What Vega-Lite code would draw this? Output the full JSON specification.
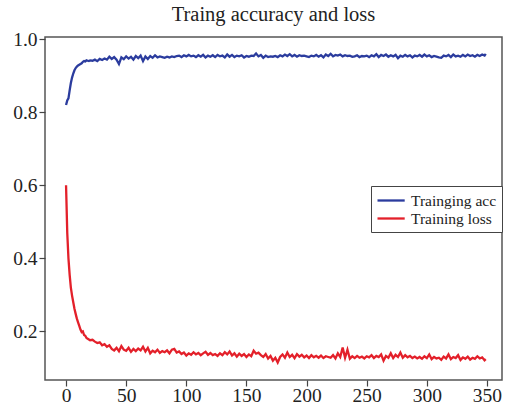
{
  "$schema": "https://vega.github.io/schema/vega-lite/v6.json",
  "width": 457,
  "height": 343,
  "autosize": {"type": "none"},
  "padding": {"left": 45, "top": 37, "right": 5, "bottom": 25},
  "background": "white",
  "title": {"text": "Traing accuracy and loss", "font": "Liberation Serif", "fontSize": 20.5, "fontWeight": "normal", "color": "#222", "offset": 4, "anchor": "middle"},
  "config": {
    "view": {"stroke": "#555", "strokeWidth": 1.5},
    "axis": {"grid": false, "domain": false, "labelFont": "Liberation Serif", "labelFontSize": 19.5, "labelColor": "#222", "tickColor": "#444", "tickSize": 6, "tickWidth": 1.2, "title": null}
  },
  "data": {"values": [
{"epoch":0,"Trainging acc":0.820,"Training loss":0.600},
{"epoch":1,"Trainging acc":0.832,"Training loss":0.470},
{"epoch":2,"Trainging acc":0.838,"Training loss":0.400},
{"epoch":3,"Trainging acc":0.860,"Training loss":0.355},
{"epoch":4,"Trainging acc":0.880,"Training loss":0.320},
{"epoch":5,"Trainging acc":0.895,"Training loss":0.298},
{"epoch":6,"Trainging acc":0.906,"Training loss":0.280},
{"epoch":7,"Trainging acc":0.915,"Training loss":0.262},
{"epoch":8,"Trainging acc":0.921,"Training loss":0.248},
{"epoch":9,"Trainging acc":0.925,"Training loss":0.235},
{"epoch":10,"Trainging acc":0.928,"Training loss":0.225},
{"epoch":11,"Trainging acc":0.930,"Training loss":0.215},
{"epoch":12,"Trainging acc":0.932,"Training loss":0.205},
{"epoch":13,"Trainging acc":0.934,"Training loss":0.198},
{"epoch":14,"Trainging acc":0.938,"Training loss":0.200},
{"epoch":15,"Trainging acc":0.940,"Training loss":0.190},
{"epoch":16,"Trainging acc":0.939,"Training loss":0.188},
{"epoch":17,"Trainging acc":0.942,"Training loss":0.182},
{"epoch":18,"Trainging acc":0.941,"Training loss":0.180},
{"epoch":19,"Trainging acc":0.940,"Training loss":0.178},
{"epoch":20,"Trainging acc":0.942,"Training loss":0.176},
{"epoch":22,"Trainging acc":0.941,"Training loss":0.177},
{"epoch":24,"Trainging acc":0.944,"Training loss":0.172},
{"epoch":26,"Trainging acc":0.940,"Training loss":0.168},
{"epoch":28,"Trainging acc":0.946,"Training loss":0.170},
{"epoch":30,"Trainging acc":0.943,"Training loss":0.162},
{"epoch":32,"Trainging acc":0.947,"Training loss":0.165},
{"epoch":34,"Trainging acc":0.944,"Training loss":0.158},
{"epoch":36,"Trainging acc":0.952,"Training loss":0.162},
{"epoch":38,"Trainging acc":0.946,"Training loss":0.152},
{"epoch":40,"Trainging acc":0.951,"Training loss":0.148},
{"epoch":42,"Trainging acc":0.944,"Training loss":0.155},
{"epoch":44,"Trainging acc":0.932,"Training loss":0.146},
{"epoch":46,"Trainging acc":0.950,"Training loss":0.160},
{"epoch":48,"Trainging acc":0.945,"Training loss":0.150},
{"epoch":50,"Trainging acc":0.953,"Training loss":0.147},
{"epoch":52,"Trainging acc":0.947,"Training loss":0.155},
{"epoch":54,"Trainging acc":0.952,"Training loss":0.144},
{"epoch":56,"Trainging acc":0.944,"Training loss":0.152},
{"epoch":58,"Trainging acc":0.954,"Training loss":0.146},
{"epoch":60,"Trainging acc":0.948,"Training loss":0.153},
{"epoch":62,"Trainging acc":0.955,"Training loss":0.148},
{"epoch":64,"Trainging acc":0.940,"Training loss":0.158},
{"epoch":66,"Trainging acc":0.953,"Training loss":0.145},
{"epoch":68,"Trainging acc":0.946,"Training loss":0.155},
{"epoch":70,"Trainging acc":0.954,"Training loss":0.140},
{"epoch":72,"Trainging acc":0.949,"Training loss":0.147},
{"epoch":74,"Trainging acc":0.956,"Training loss":0.143},
{"epoch":76,"Trainging acc":0.950,"Training loss":0.150},
{"epoch":78,"Trainging acc":0.953,"Training loss":0.141},
{"epoch":80,"Trainging acc":0.951,"Training loss":0.146},
{"epoch":82,"Trainging acc":0.949,"Training loss":0.143},
{"epoch":84,"Trainging acc":0.952,"Training loss":0.148},
{"epoch":86,"Trainging acc":0.950,"Training loss":0.140},
{"epoch":88,"Trainging acc":0.953,"Training loss":0.150},
{"epoch":90,"Trainging acc":0.951,"Training loss":0.152},
{"epoch":92,"Trainging acc":0.954,"Training loss":0.142},
{"epoch":94,"Trainging acc":0.955,"Training loss":0.145},
{"epoch":96,"Trainging acc":0.951,"Training loss":0.138},
{"epoch":98,"Trainging acc":0.956,"Training loss":0.142},
{"epoch":100,"Trainging acc":0.953,"Training loss":0.134},
{"epoch":102,"Trainging acc":0.957,"Training loss":0.140},
{"epoch":104,"Trainging acc":0.953,"Training loss":0.136},
{"epoch":106,"Trainging acc":0.955,"Training loss":0.143},
{"epoch":108,"Trainging acc":0.951,"Training loss":0.137},
{"epoch":110,"Trainging acc":0.956,"Training loss":0.141},
{"epoch":112,"Trainging acc":0.952,"Training loss":0.135},
{"epoch":114,"Trainging acc":0.957,"Training loss":0.140},
{"epoch":116,"Trainging acc":0.950,"Training loss":0.144},
{"epoch":118,"Trainging acc":0.955,"Training loss":0.136},
{"epoch":120,"Trainging acc":0.952,"Training loss":0.141},
{"epoch":122,"Trainging acc":0.956,"Training loss":0.135},
{"epoch":124,"Trainging acc":0.951,"Training loss":0.138},
{"epoch":126,"Trainging acc":0.957,"Training loss":0.133},
{"epoch":128,"Trainging acc":0.953,"Training loss":0.140},
{"epoch":130,"Trainging acc":0.955,"Training loss":0.135},
{"epoch":132,"Trainging acc":0.950,"Training loss":0.143},
{"epoch":134,"Trainging acc":0.958,"Training loss":0.137},
{"epoch":136,"Trainging acc":0.952,"Training loss":0.145},
{"epoch":138,"Trainging acc":0.957,"Training loss":0.134},
{"epoch":140,"Trainging acc":0.951,"Training loss":0.140},
{"epoch":142,"Trainging acc":0.955,"Training loss":0.131},
{"epoch":144,"Trainging acc":0.953,"Training loss":0.139},
{"epoch":146,"Trainging acc":0.956,"Training loss":0.133},
{"epoch":148,"Trainging acc":0.950,"Training loss":0.138},
{"epoch":150,"Trainging acc":0.954,"Training loss":0.130},
{"epoch":152,"Trainging acc":0.952,"Training loss":0.137},
{"epoch":154,"Trainging acc":0.955,"Training loss":0.132},
{"epoch":156,"Trainging acc":0.954,"Training loss":0.147},
{"epoch":158,"Trainging acc":0.961,"Training loss":0.139},
{"epoch":160,"Trainging acc":0.953,"Training loss":0.142},
{"epoch":162,"Trainging acc":0.957,"Training loss":0.135},
{"epoch":164,"Trainging acc":0.949,"Training loss":0.130},
{"epoch":166,"Trainging acc":0.955,"Training loss":0.138},
{"epoch":168,"Trainging acc":0.951,"Training loss":0.126},
{"epoch":170,"Trainging acc":0.953,"Training loss":0.133},
{"epoch":172,"Trainging acc":0.952,"Training loss":0.120},
{"epoch":174,"Trainging acc":0.954,"Training loss":0.128},
{"epoch":176,"Trainging acc":0.951,"Training loss":0.115},
{"epoch":178,"Trainging acc":0.956,"Training loss":0.130},
{"epoch":180,"Trainging acc":0.953,"Training loss":0.137},
{"epoch":182,"Trainging acc":0.958,"Training loss":0.128},
{"epoch":184,"Trainging acc":0.954,"Training loss":0.142},
{"epoch":186,"Trainging acc":0.959,"Training loss":0.130},
{"epoch":188,"Trainging acc":0.953,"Training loss":0.136},
{"epoch":190,"Trainging acc":0.957,"Training loss":0.127},
{"epoch":192,"Trainging acc":0.952,"Training loss":0.138},
{"epoch":194,"Trainging acc":0.956,"Training loss":0.131},
{"epoch":196,"Trainging acc":0.954,"Training loss":0.136},
{"epoch":198,"Trainging acc":0.955,"Training loss":0.129},
{"epoch":200,"Trainging acc":0.953,"Training loss":0.134},
{"epoch":202,"Trainging acc":0.951,"Training loss":0.127},
{"epoch":204,"Trainging acc":0.955,"Training loss":0.135},
{"epoch":206,"Trainging acc":0.953,"Training loss":0.129},
{"epoch":208,"Trainging acc":0.957,"Training loss":0.133},
{"epoch":210,"Trainging acc":0.952,"Training loss":0.128},
{"epoch":212,"Trainging acc":0.956,"Training loss":0.134},
{"epoch":214,"Trainging acc":0.950,"Training loss":0.127},
{"epoch":216,"Trainging acc":0.958,"Training loss":0.132},
{"epoch":218,"Trainging acc":0.954,"Training loss":0.130},
{"epoch":220,"Trainging acc":0.960,"Training loss":0.128},
{"epoch":222,"Trainging acc":0.953,"Training loss":0.135},
{"epoch":224,"Trainging acc":0.957,"Training loss":0.126},
{"epoch":226,"Trainging acc":0.955,"Training loss":0.140},
{"epoch":228,"Trainging acc":0.958,"Training loss":0.130},
{"epoch":230,"Trainging acc":0.953,"Training loss":0.156},
{"epoch":232,"Trainging acc":0.956,"Training loss":0.128},
{"epoch":234,"Trainging acc":0.954,"Training loss":0.150},
{"epoch":236,"Trainging acc":0.955,"Training loss":0.125},
{"epoch":238,"Trainging acc":0.952,"Training loss":0.132},
{"epoch":240,"Trainging acc":0.953,"Training loss":0.127},
{"epoch":242,"Trainging acc":0.956,"Training loss":0.133},
{"epoch":244,"Trainging acc":0.951,"Training loss":0.128},
{"epoch":246,"Trainging acc":0.954,"Training loss":0.131},
{"epoch":248,"Trainging acc":0.953,"Training loss":0.126},
{"epoch":250,"Trainging acc":0.955,"Training loss":0.132},
{"epoch":252,"Trainging acc":0.951,"Training loss":0.129},
{"epoch":254,"Trainging acc":0.956,"Training loss":0.135},
{"epoch":256,"Trainging acc":0.953,"Training loss":0.127},
{"epoch":258,"Trainging acc":0.959,"Training loss":0.133},
{"epoch":260,"Trainging acc":0.951,"Training loss":0.130},
{"epoch":262,"Trainging acc":0.957,"Training loss":0.137},
{"epoch":264,"Trainging acc":0.954,"Training loss":0.120},
{"epoch":266,"Trainging acc":0.958,"Training loss":0.133},
{"epoch":268,"Trainging acc":0.952,"Training loss":0.128},
{"epoch":270,"Trainging acc":0.956,"Training loss":0.140},
{"epoch":272,"Trainging acc":0.953,"Training loss":0.127},
{"epoch":274,"Trainging acc":0.957,"Training loss":0.136},
{"epoch":276,"Trainging acc":0.948,"Training loss":0.130},
{"epoch":278,"Trainging acc":0.955,"Training loss":0.142},
{"epoch":280,"Trainging acc":0.952,"Training loss":0.128},
{"epoch":282,"Trainging acc":0.957,"Training loss":0.135},
{"epoch":284,"Trainging acc":0.953,"Training loss":0.129},
{"epoch":286,"Trainging acc":0.956,"Training loss":0.133},
{"epoch":288,"Trainging acc":0.950,"Training loss":0.127},
{"epoch":290,"Trainging acc":0.955,"Training loss":0.131},
{"epoch":292,"Trainging acc":0.953,"Training loss":0.126},
{"epoch":294,"Trainging acc":0.957,"Training loss":0.130},
{"epoch":296,"Trainging acc":0.952,"Training loss":0.125},
{"epoch":298,"Trainging acc":0.958,"Training loss":0.132},
{"epoch":300,"Trainging acc":0.953,"Training loss":0.127},
{"epoch":302,"Trainging acc":0.956,"Training loss":0.137},
{"epoch":304,"Trainging acc":0.951,"Training loss":0.124},
{"epoch":306,"Trainging acc":0.954,"Training loss":0.130},
{"epoch":308,"Trainging acc":0.952,"Training loss":0.126},
{"epoch":310,"Trainging acc":0.950,"Training loss":0.128},
{"epoch":312,"Trainging acc":0.949,"Training loss":0.122},
{"epoch":314,"Trainging acc":0.955,"Training loss":0.131},
{"epoch":316,"Trainging acc":0.953,"Training loss":0.126},
{"epoch":318,"Trainging acc":0.957,"Training loss":0.137},
{"epoch":320,"Trainging acc":0.951,"Training loss":0.124},
{"epoch":322,"Trainging acc":0.958,"Training loss":0.130},
{"epoch":324,"Trainging acc":0.953,"Training loss":0.127},
{"epoch":326,"Trainging acc":0.955,"Training loss":0.135},
{"epoch":328,"Trainging acc":0.952,"Training loss":0.122},
{"epoch":330,"Trainging acc":0.957,"Training loss":0.129},
{"epoch":332,"Trainging acc":0.953,"Training loss":0.125},
{"epoch":334,"Trainging acc":0.958,"Training loss":0.131},
{"epoch":336,"Trainging acc":0.954,"Training loss":0.123},
{"epoch":338,"Trainging acc":0.956,"Training loss":0.128},
{"epoch":340,"Trainging acc":0.952,"Training loss":0.125},
{"epoch":342,"Trainging acc":0.957,"Training loss":0.132},
{"epoch":344,"Trainging acc":0.954,"Training loss":0.126},
{"epoch":346,"Trainging acc":0.958,"Training loss":0.129},
{"epoch":348,"Trainging acc":0.955,"Training loss":0.121},
{"epoch":349,"Trainging acc":0.960,"Training loss":0.124}
  ]},
  "transform": [{"fold": ["Trainging acc", "Training loss"], "as": ["series", "value"]}],
  "mark": {"type": "line", "strokeWidth": 2.3, "clip": true},
  "encoding": {
    "x": {"field": "epoch", "type": "quantitative", "scale": {"domain": [-17.5, 362.5], "nice": false, "zero": false}, "axis": {"values": [0, 50, 100, 150, 200, 250, 300, 350], "labelPadding": 0, "labelFlush": false}},
    "y": {"field": "value", "type": "quantitative", "scale": {"domain": [0.067, 1.006], "nice": false, "zero": false}, "axis": {"values": [0.2, 0.4, 0.6, 0.8, 1.0], "format": ".1f", "labelPadding": 2, "labelFlush": false}},
    "color": {"field": "series", "type": "nominal", "scale": {"domain": ["Trainging acc", "Training loss"], "range": ["#2b3c9e", "#e3202a"]},
      "legend": {"title": null, "orient": "none", "legendX": 326, "legendY": 149, "symbolType": "M-1,0H2.4", "symbolSize": 256, "symbolStrokeWidth": 2.3, "symbolFillColor": "transparent", "labelFont": "Liberation Serif", "labelFontSize": 15.5, "labelColor": "#222", "rowPadding": 0, "padding": 5, "strokeColor": "#444", "fillColor": "white", "cornerRadius": 0, "labelOffset": 16}}
  }
}
